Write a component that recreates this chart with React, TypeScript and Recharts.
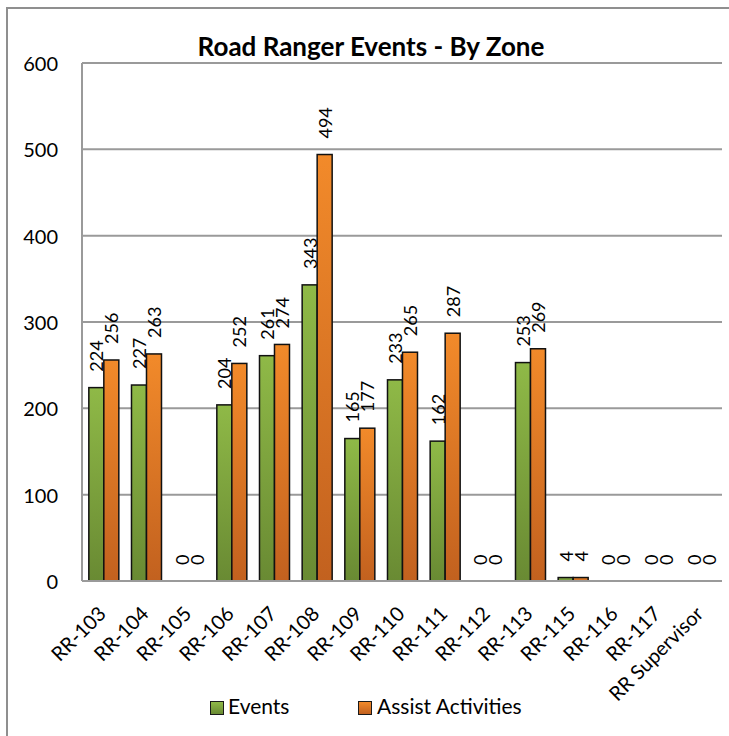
import { Bar, BarChart, CartesianGrid, XAxis, YAxis } from "recharts";

const zones = [
  "RR-103", "RR-104", "RR-105", "RR-106", "RR-107", "RR-108", "RR-109", "RR-110",
  "RR-111", "RR-112", "RR-113", "RR-115", "RR-116", "RR-117", "RR Supervisor",
];
const events = [224, 227, 0, 204, 261, 343, 165, 233, 162, 0, 253, 4, 0, 0, 0];
const assists = [256, 263, 0, 252, 274, 494, 177, 265, 287, 0, 269, 4, 0, 0, 0];
const yTicks = [0, 100, 200, 300, 400, 500, 600];

const chartData = zones.map((zone, i) => ({
  zone,
  events: events[i],
  assists: assists[i],
}));

const FONT = "Lato, 'Liberation Sans', sans-serif";

// bar rect plus its rotated value label, so zero bars still get a "0"
const makeShape = (key: string, fill: string) => (props: any) => {
  const { x, y, width, height, payload } = props;
  const cx = x + width / 2;
  const ty = y - 16;
  return (
    <g>
      {height > 0 && (
        <rect x={x} y={y} width={width} height={height} fill={fill} stroke="#111" strokeWidth={1.5} />
      )}
      <text
        x={cx}
        y={ty}
        transform={`rotate(-90 ${cx} ${ty})`}
        textAnchor="start"
        dominantBaseline="central"
        fontSize={18}
        fontFamily={FONT}
        fill="#000"
      >
        {payload[key]}
      </text>
    </g>
  );
};

const XTick = (props: any) => {
  const { x, y, payload } = props;
  const ax = x + 4;
  const ay = y + 34;
  return (
    <text
      x={ax}
      y={ay}
      transform={`rotate(-45 ${ax} ${ay})`}
      textAnchor="end"
      fontSize={20}
      fontFamily={FONT}
      fill="#000"
    >
      {payload.value}
    </text>
  );
};

const YTick = (props: any) => {
  const { x, y, payload } = props;
  return (
    <text
      x={x - 24}
      y={y}
      textAnchor="end"
      dominantBaseline="central"
      fontSize={20}
      fontFamily={FONT}
      fill="#000"
    >
      {payload.value}
    </text>
  );
};

const swatch = (grad: string) => ({
  position: "absolute" as const,
  width: 12,
  height: 12,
  border: "1.5px solid #1a1a1a",
  background: grad,
});

export default function App() {
  return (
    <div
      style={{
        position: "absolute",
        left: 0,
        top: 0,
        width: 729,
        height: 736,
        overflow: "hidden",
        background: "#fff",
        fontFamily: FONT,
      }}
    >
      <div
        style={{
          position: "absolute",
          left: 6,
          top: 7,
          width: 723,
          height: 729,
          borderTop: "2px solid #8f8f8f",
          borderLeft: "2px solid #8f8f8f",
        }}
      />
      <div
        style={{
          position: "absolute",
          left: 0,
          width: 742,
          top: 30,
          textAlign: "center",
          fontWeight: 700,
          fontSize: 26,
          color: "#000",
        }}
      >
        Road Ranger Events - By Zone
      </div>
      <BarChart
        width={729}
        height={736}
        data={chartData}
        margin={{ top: 63, right: 7, left: 0, bottom: 75 }}
        barCategoryGap="16%"
        barGap={0}
      >
        <defs>
          <linearGradient id="greenFill" x1="0" y1="0" x2="0" y2="1">
            <stop offset="0%" stopColor="#8fb947" />
            <stop offset="100%" stopColor="#698a33" />
          </linearGradient>
          <linearGradient id="orangeFill" x1="0" y1="0" x2="0" y2="1">
            <stop offset="0%" stopColor="#f28a2a" />
            <stop offset="100%" stopColor="#c2611f" />
          </linearGradient>
        </defs>
        <CartesianGrid vertical={false} stroke="#9a9a9a" strokeWidth={2} />
        <XAxis
          dataKey="zone"
          interval={0}
          height={80}
          tickLine={false}
          tickSize={0}
          tickMargin={0}
          axisLine={{ stroke: "#9a9a9a", strokeWidth: 2 }}
          tick={<XTick />}
        />
        <YAxis
          width={82}
          domain={[0, 600]}
          ticks={yTicks}
          tickLine={false}
          tickSize={0}
          tickMargin={0}
          axisLine={{ stroke: "#9a9a9a", strokeWidth: 2 }}
          tick={<YTick />}
        />
        <Bar
          dataKey="events"
          fill="url(#greenFill)"
          shape={makeShape("events", "url(#greenFill)")}
          isAnimationActive={false}
        />
        <Bar
          dataKey="assists"
          fill="url(#orangeFill)"
          shape={makeShape("assists", "url(#orangeFill)")}
          isAnimationActive={false}
        />
      </BarChart>
      <div style={{ ...swatch("linear-gradient(#8fb947, #698a33)"), left: 210, top: 701 }} />
      <div style={{ position: "absolute", left: 228, top: 693, fontSize: 21, color: "#000" }}>
        Events
      </div>
      <div style={{ ...swatch("linear-gradient(#f28a2a, #c2611f)"), left: 358, top: 701 }} />
      <div style={{ position: "absolute", left: 377, top: 693, fontSize: 21, color: "#000" }}>
        Assist Activities
      </div>
    </div>
  );
}
